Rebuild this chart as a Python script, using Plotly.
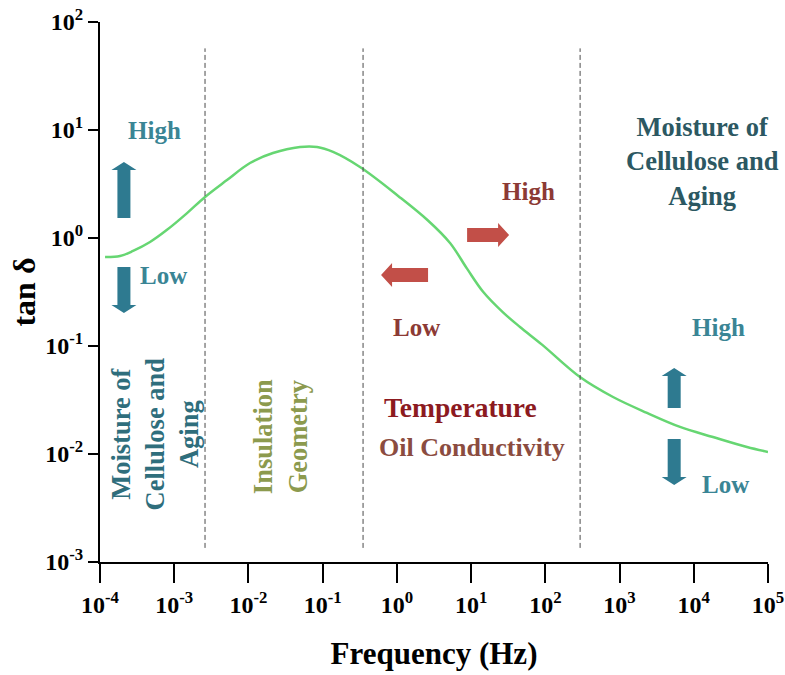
import numpy as np
import plotly.graph_objects as go

# ---- data ----
freq_hz = [1.17e-4, 1.86e-4, 2.79e-4, 4.72e-4, 8.0e-4, 1.49e-3, 2.6e-3, 5.14e-3,
           0.0105, 0.0214, 0.0495, 0.084, 0.138, 0.318, 1.05, 2.6, 5.2,
           8.81, 14.5, 26.9, 45.6, 90.2, 293, 817, 2344, 6520, 18150, 52100, 1.0e5]
tan_delta = [0.667, 0.681, 0.759, 0.918, 1.19, 1.70, 2.40, 3.44,
             4.95, 6.12, 6.96, 6.96, 6.26, 4.54, 2.44, 1.46, 0.899,
             0.52, 0.318, 0.205, 0.150, 0.103, 0.0516, 0.0337, 0.0240, 0.0178, 0.01436, 0.01161, 0.01045]

region_bounds_hz = [0.0026, 0.35, 294]

x_tick_exps = [-4, -3, -2, -1, 0, 1, 2, 3, 4, 5]
y_tick_exps = [-3, -2, -1, 0, 1, 2]
x_tick_labels = [f"10<sup>{e}</sup>" for e in x_tick_exps]
y_tick_labels = [f"10<sup>{e}</sup>" for e in y_tick_exps]

FONT = "Liberation Serif"

fig = go.Figure()
fig.add_trace(go.Scatter(x=freq_hz, y=tan_delta, mode="lines",
                         line=dict(color="#66d672", width=2.5, shape="spline", smoothing=1.0),
                         showlegend=False, hoverinfo="skip"))

# region boundaries
for xb in region_bounds_hz:
    fig.add_shape(type="line", xref="x", yref="y", x0=xb, x1=xb, y0=0.00135, y1=57,
                  line=dict(color="#4a4a4a", width=1, dash="5px,3px"))

# block arrows (pixel-sized paths anchored at data points)
def v_arrow(L, up=True, sw=6.5, hw=12.5, hl=8):
    if up:
        return (f"M{-sw},0 L{sw},0 L{sw},{L-hl} L{hw},{L-hl} L0,{L} "
                f"L{-hw},{L-hl} L{-sw},{L-hl} Z")
    return (f"M{-sw},0 L{sw},0 L{sw},{-(L-hl)} L{hw},{-(L-hl)} L0,{-L} "
            f"L{-hw},{-(L-hl)} L{-sw},{-(L-hl)} Z")

def h_arrow(L, right=True, sw=7, hw=12, hl=11):
    s = 1 if right else -1
    return (f"M0,{-sw} L{s*(L-hl)},{-sw} L{s*(L-hl)},{-hw} L{s*L},0 "
            f"L{s*(L-hl)},{hw} L{s*(L-hl)},{sw} L0,{sw} Z")

TEAL_ARROW = "#2e7a90"
RED_ARROW = "#c24f48"
arrows = [
    (2.1e-4, 1.53, v_arrow(56, True), TEAL_ARROW),
    (2.1e-4, 0.539, v_arrow(46, False), TEAL_ARROW),
    (5445, 0.02667, v_arrow(40, True), TEAL_ARROW),
    (5445, 0.01377, v_arrow(46, False), TEAL_ARROW),
    (8.83, 1.066, h_arrow(42, True), RED_ARROW),
    (2.63, 0.454, h_arrow(47, False), RED_ARROW),
]
for xa_, ya_, path, col in arrows:
    fig.add_shape(type="path", xref="x", yref="y", xsizemode="pixel", ysizemode="pixel",
                  xanchor=xa_, yanchor=ya_, path=path,
                  fillcolor=col, line=dict(width=0))

# text labels: (freq, tan, text, color, size, angle)
labels = [
    (5.5e-4, 9.8, "High", "#3a8595", 25, 0),
    (7.2e-4, 0.445, "Low", "#3a8595", 25, 0),
    (21300, 0.147, "High", "#3a8595", 25, 0),
    (26500, 0.00527, "Low", "#3a8595", 25, 0),
    (58.6, 2.67, "High", "#8c3a35", 25, 0),
    (1.82, 0.147, "Low", "#8c3a35", 25, 0),
    (7.1, 0.0267, "Temperature", "#8c1a1f", 27.5, 0),
    (10.3, 0.01138, "Oil Conductivity", "#8b4c40", 26, 0),
    (13000, 5.06, "Moisture of<br>Cellulose and<br>Aging", "#2c5862", 26.5, 0),
    (5.5e-4, 0.0155, "Moisture of<br>Cellulose and<br>Aging", "#2f6e7c", 26.5, -90),
    (0.0267, 0.01436, "Insulation<br>Geometry", "#8c9a4e", 26.5, -90),
]
for fx, ty, txt, col, sz, ang in labels:
    fig.add_annotation(x=np.log10(fx), y=np.log10(ty), xref="x", yref="y", text=txt,
                       showarrow=False, textangle=ang,
                       font=dict(family=FONT, size=sz, color=col, weight="bold"),
                       align="center")

fig.update_xaxes(type="log", range=[-4, 5], tickvals=[10.0**e for e in x_tick_exps],
                 ticktext=x_tick_labels, ticks="outside", ticklen=19, tickwidth=2,
                 tickcolor="black", showline=True, linecolor="black", linewidth=2,
                 showgrid=False, zeroline=False, ticklabelstandoff=1, automargin=False,
                 ticklabeloverflow="allow",
                 tickfont=dict(family=FONT, size=24, color="black", weight="bold"),
                 title=dict(text="Frequency (Hz)", standoff=26,
                            font=dict(family=FONT, size=31, color="black", weight="bold")))
fig.update_yaxes(type="log", range=[-3, 2], tickvals=[10.0**e for e in y_tick_exps],
                 ticktext=y_tick_labels, ticks="outside", ticklen=10, tickwidth=2,
                 tickcolor="black", showline=True, linecolor="black", linewidth=2,
                 showgrid=False, zeroline=False, automargin=False,
                 ticklabeloverflow="allow",
                 tickfont=dict(family=FONT, size=24, color="black", weight="bold"),
                 title=dict(text="tan δ", standoff=0,
                            font=dict(family=FONT, size=32, color="black", weight="bold")))

fig.update_layout(width=785, height=675, margin=dict(l=100, r=17, t=22, b=113),
                  plot_bgcolor="white", paper_bgcolor="white", showlegend=False)

# remove the page's default body margin so the figure fills the window exactly
fig.write_html("out.html", config={"displayModeBar": False},
               post_script="document.body.style.margin='0';document.body.style.overflow='hidden';")
